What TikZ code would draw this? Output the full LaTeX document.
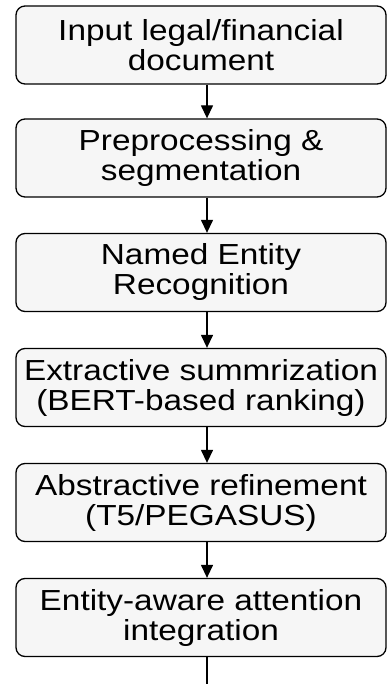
\documentclass[tikz,border=0pt]{standalone}
\usepackage{xcolor}
\usepackage{fontspec}
\setmainfont{Liberation Sans}[FakeStretch=1.15]
\usepackage{tikz}
\usetikzlibrary{arrows.meta}

\begin{document}
\begin{tikzpicture}[x=1pt,y=-1pt,
	stage/.style={draw,line width=1.3pt,rounded corners=9pt,fill=gray!7,minimum width=370pt,minimum height=78pt,inner sep=0pt,align=center,font=\fontsize{29}{30}\selectfont},
	flow/.style={line width=1.3pt,-{Stealth[length=13pt,width=12pt,inset=0pt]}}]
	\useasboundingbox (0,0) rectangle (387,684);
	\clip (0,0) rectangle (387,684);

	\node[stage] (input) at (201,45) {Input legal/financial\\document};
	\node[stage] (prep) at (201,158) {Preprocessing \&\\segmentation};
	\node[stage] (ner) at (201,272.5) {Named Entity\\Recognition};
	\node[stage] (extract) at (201,387.5) {Extractive summrization\\(BERT-based ranking)};
	\node[stage] (abstract) at (201,502.5) {Abstractive refinement\\(T5/PEGASUS)};
	\node[stage] (attn) at (201,617.5) {Entity-aware attention\\integration};

	\draw[flow] ([xshift=6pt]input.south) -- ([xshift=6pt]prep.north);
	\draw[flow] ([xshift=6pt]prep.south) -- ([xshift=6pt]ner.north);
	\draw[flow] ([xshift=6pt]ner.south) -- ([xshift=6pt]extract.north);
	\draw[flow] ([xshift=6pt]extract.south) -- ([xshift=6pt]abstract.north);
	\draw[flow] ([xshift=6pt]abstract.south) -- ([xshift=6pt]attn.north);

	% last arrow runs off the page
	\coordinate (next) at (207,697);
	\draw[flow] ([xshift=6pt]attn.south) -- (next);
\end{tikzpicture}
\end{document}
